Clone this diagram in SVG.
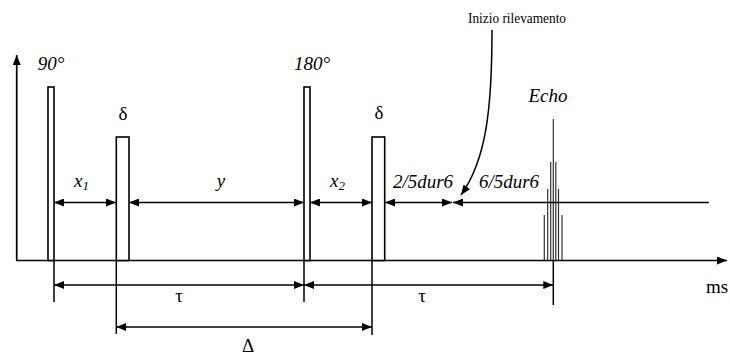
<svg xmlns="http://www.w3.org/2000/svg" width="730" height="356" viewBox="0 0 730 356">
<style>
.ln{stroke:#000;stroke-width:1.7;fill:none}
.th{stroke:#000;stroke-width:1.5;fill:none}
.pulse{stroke:#000;stroke-width:1.6;fill:#fff}
.echo{stroke:#333;stroke-width:1.2}
text{font-family:"Liberation Serif","Times New Roman",serif;font-size:19px;fill:#000}
.i{font-style:italic}
</style>
<defs>
<marker id="ah" viewBox="0 0 10 8" refX="10" refY="4" markerWidth="10" markerHeight="8" markerUnits="userSpaceOnUse" orient="auto-start-reverse">
<path d="M0,0 L10,4 L0,8 z" fill="#000"/>
</marker>
</defs>
<rect width="730" height="356" fill="#fff"/>
<g id="axes">
<line class="ln" x1="16.7" y1="260.5" x2="16.7" y2="55" marker-end="url(#ah)"/>
<line class="ln" x1="16" y1="260.5" x2="727" y2="260.5" marker-end="url(#ah)"/>
<text x="706" y="293">ms</text>
</g>
<g id="pulse90">
<rect class="pulse" x="48" y="87" width="6" height="173.5"/>
<text class="i" x="51" y="70" text-anchor="middle">90°</text>
</g>
<g id="delta1">
<rect class="pulse" x="116.3" y="137" width="12.7" height="123.5"/>
<text x="123" y="120" text-anchor="middle">δ</text>
</g>
<g id="pulse180">
<rect class="pulse" x="304" y="87" width="6" height="173.5"/>
<text class="i" x="312" y="70" text-anchor="middle">180°</text>
</g>
<g id="delta2">
<rect class="pulse" x="372" y="137" width="12.7" height="123.5"/>
<text x="379" y="119" text-anchor="middle">δ</text>
</g>
<g id="echo">
<line class="echo" x1="553.3" y1="119" x2="553.3" y2="260"/>
<line class="echo" x1="550.7" y1="162" x2="550.7" y2="260"/>
<line class="echo" x1="555.8" y1="162" x2="555.8" y2="260"/>
<line class="echo" x1="547.7" y1="189" x2="547.7" y2="260"/>
<line class="echo" x1="558.5" y1="189" x2="558.5" y2="260"/>
<line class="echo" x1="544.3" y1="215" x2="544.3" y2="260"/>
<line class="echo" x1="562" y1="215" x2="562" y2="260"/>
<text class="i" x="548" y="102" text-anchor="middle">Echo</text>
</g>
<g id="inizio">
<text x="468" y="23" style="font-size:14px" textLength="98" lengthAdjust="spacingAndGlyphs">Inizio rilevamento</text>
</g>
<g id="connectors">
<path class="th" d="M492 30 C492 110 486 160 461 195" marker-end="url(#ah)"/>
<line class="th" x1="54" y1="202.5" x2="116" y2="202.5" marker-start="url(#ah)" marker-end="url(#ah)"/>
<line class="th" x1="129" y1="202.5" x2="304" y2="202.5" marker-start="url(#ah)" marker-end="url(#ah)"/>
<line class="th" x1="310" y1="202.5" x2="372" y2="202.5" marker-start="url(#ah)" marker-end="url(#ah)"/>
<line class="th" x1="385" y1="202.5" x2="452" y2="202.5" marker-start="url(#ah)" marker-end="url(#ah)"/>
<line class="th" x1="453" y1="202.5" x2="709" y2="202.5" marker-start="url(#ah)"/>
<line class="th" x1="54" y1="260" x2="54" y2="302"/>
<line class="th" x1="116.3" y1="260" x2="116.3" y2="334"/>
<line class="th" x1="304" y1="260" x2="304" y2="302"/>
<line class="th" x1="372" y1="260" x2="372" y2="335"/>
<line class="th" x1="553.3" y1="260" x2="553.3" y2="305"/>
<line class="th" x1="54" y1="285" x2="304" y2="285" marker-start="url(#ah)" marker-end="url(#ah)"/>
<line class="th" x1="304" y1="285" x2="553.3" y2="285" marker-start="url(#ah)" marker-end="url(#ah)"/>
<line class="th" x1="116.3" y1="327" x2="372" y2="327" marker-start="url(#ah)" marker-end="url(#ah)"/>
</g>
<g id="labels">
<text class="i" x="74" y="187">x<tspan style="font-size:13px" dy="3">1</tspan></text>
<text class="i" x="221" y="187" text-anchor="middle">y</text>
<text class="i" x="330" y="187">x<tspan style="font-size:13px" dy="3">2</tspan></text>
<text class="i" x="423" y="188" text-anchor="middle">2/5dur6</text>
<text class="i" x="509" y="188" text-anchor="middle">6/5dur6</text>
<text x="179" y="302" text-anchor="middle">τ</text>
<text x="422" y="302" text-anchor="middle">τ</text>
<text x="248" y="352" text-anchor="middle">Δ</text>
</g>
</svg>
